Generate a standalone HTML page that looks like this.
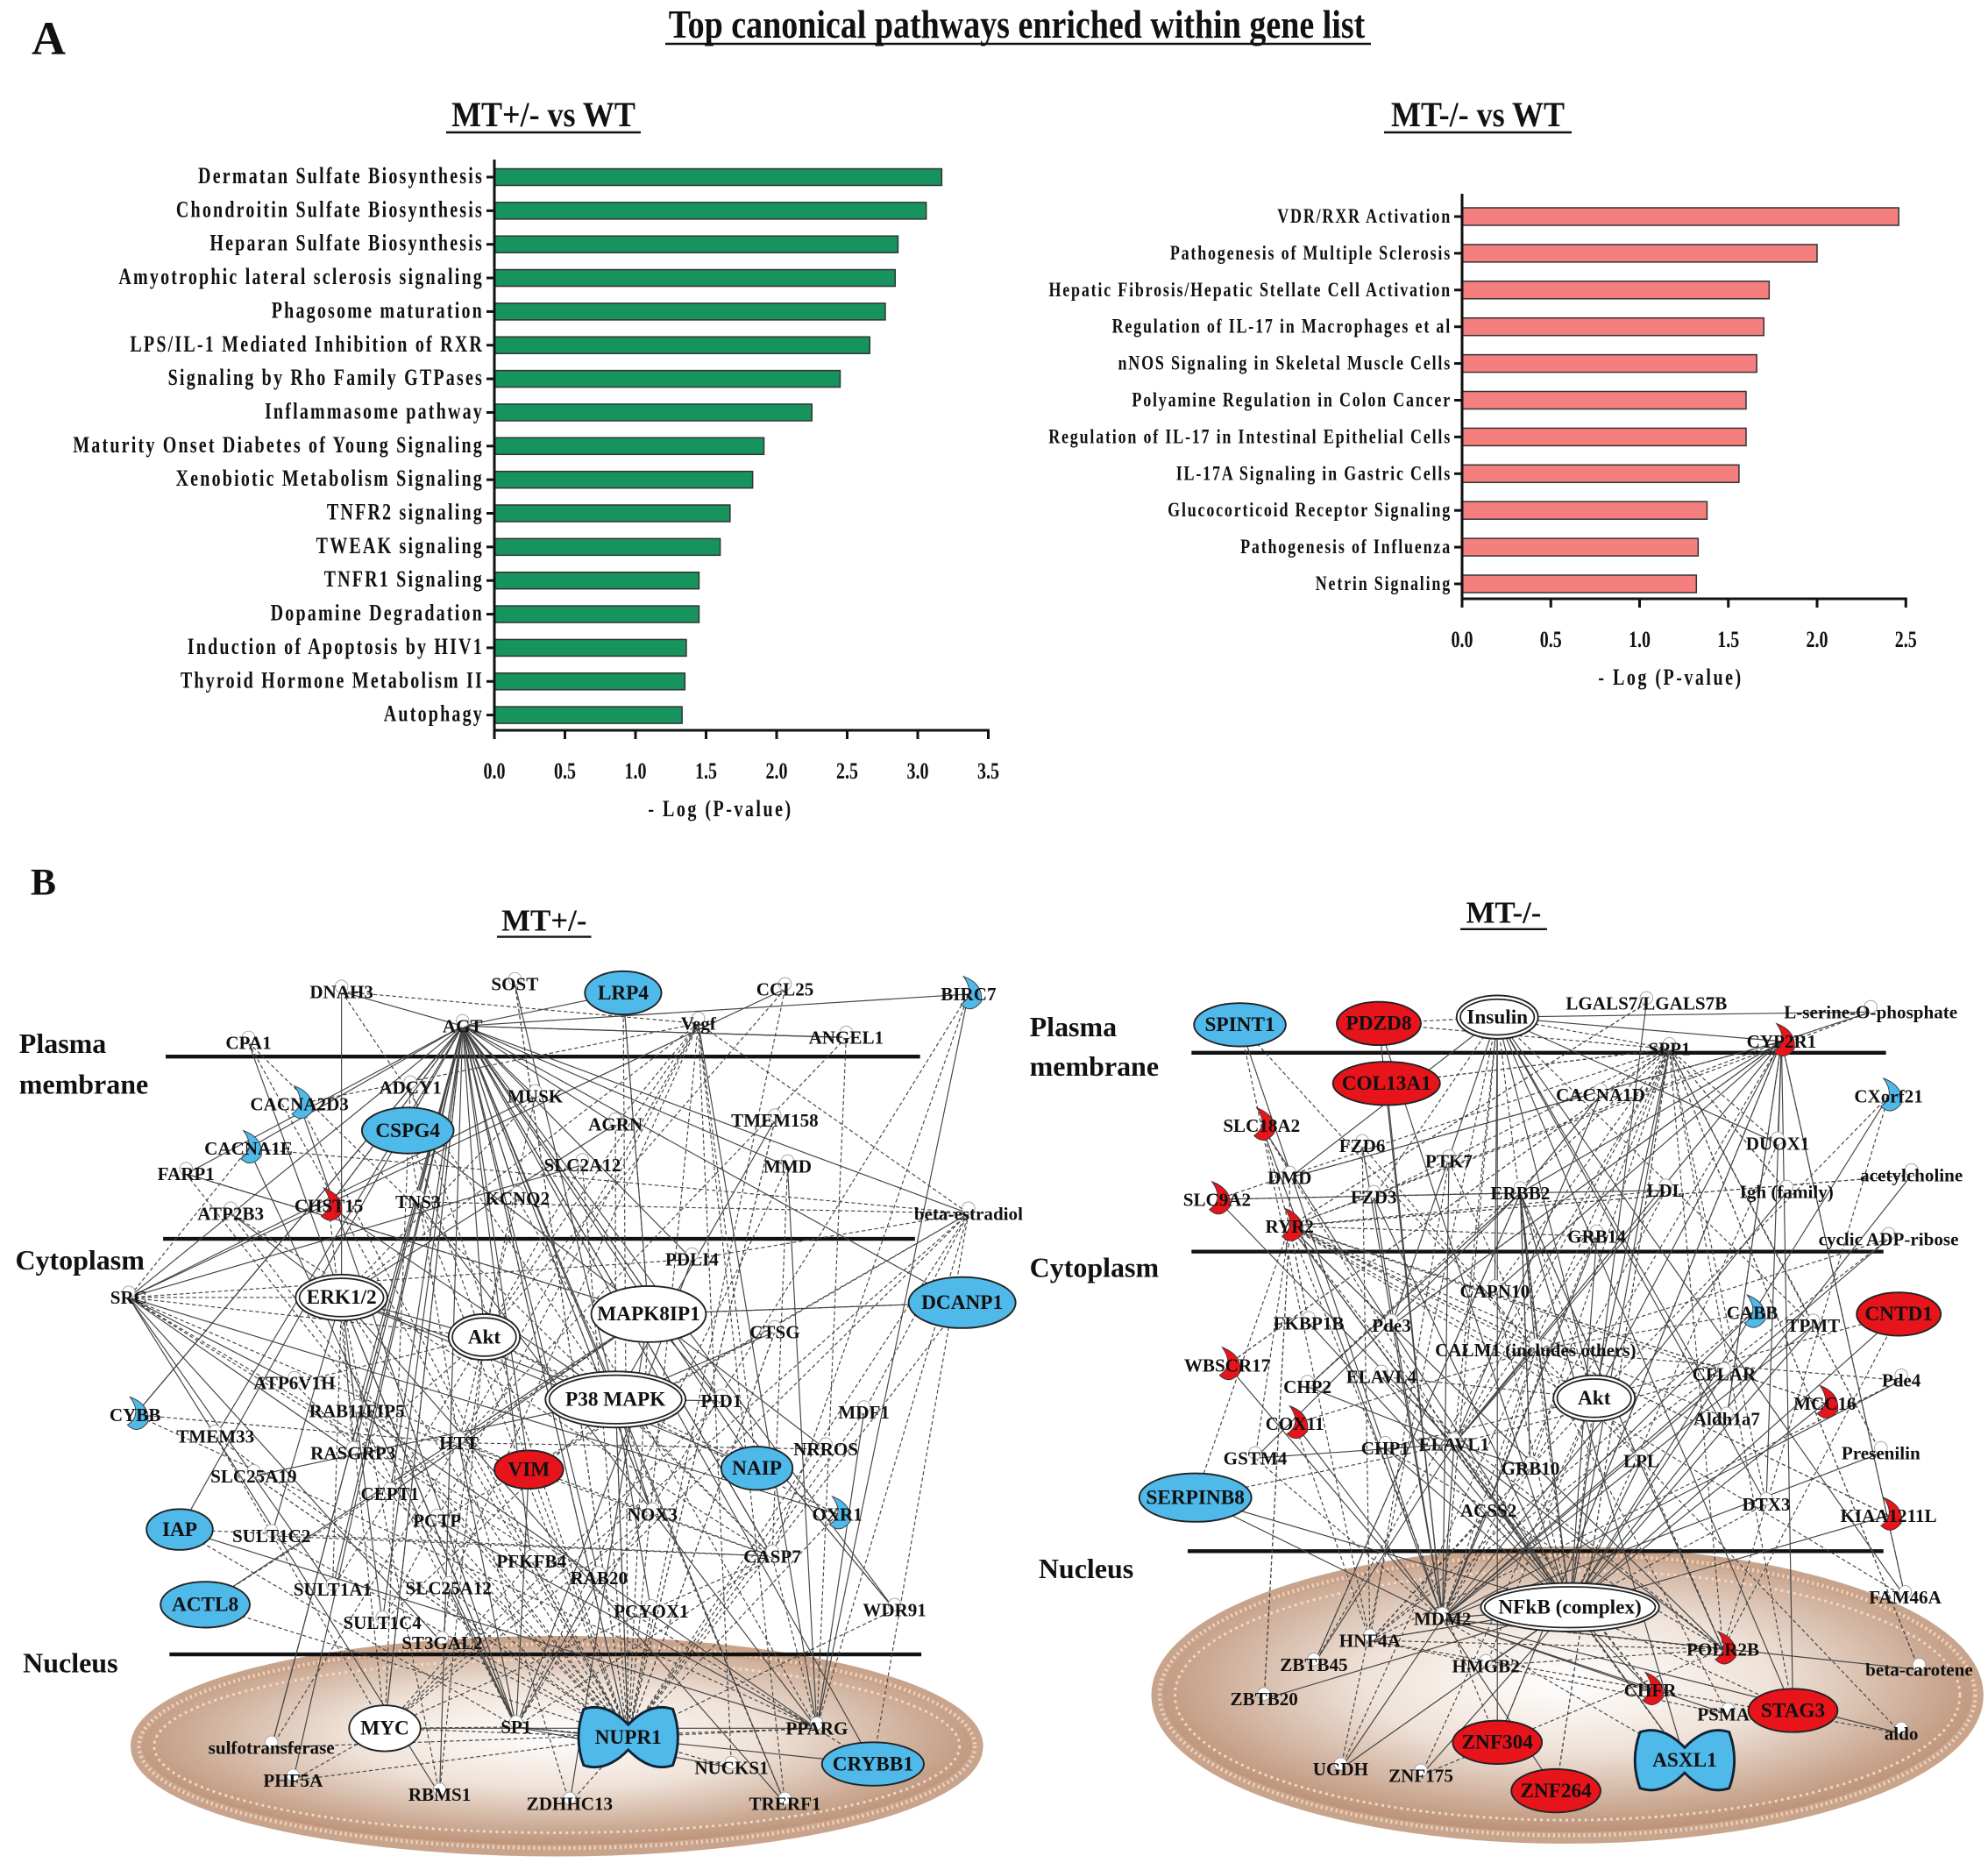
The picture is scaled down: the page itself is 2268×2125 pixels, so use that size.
<!DOCTYPE html>
<html><head><meta charset="utf-8"><style>
html,body{margin:0;padding:0;background:#fff;}
svg{display:block;}
text{font-family:"Liberation Serif",serif;font-weight:bold;fill:#111;}
</style></head><body>
<svg id="fig" width="2268" height="2125" viewBox="0 0 2268 2125" xmlns="http://www.w3.org/2000/svg">
<defs>
<radialGradient id="nuc" cx="50%" cy="45%" r="55%">
<stop offset="0" stop-color="#ffffff"/><stop offset="0.45" stop-color="#efe2d8"/><stop offset="1" stop-color="#b88c70"/>
</radialGradient>
</defs>
<text x="36" y="62" font-size="54">A</text>
<text transform="translate(1160,43) scale(1,1.2)" text-anchor="middle" font-size="38">Top canonical pathways enriched within gene list</text>
<line x1="759" y1="50" x2="1564" y2="50" stroke="#111" stroke-width="2.5"/>
<g id="chartL"></g>
<g id="chartR"></g>
<g id="net" transform="scale(1.4538)"></g>
</svg>
<script>
// ---------- Chart data ----------
const catsL = ["Dermatan Sulfate Biosynthesis","Chondroitin Sulfate Biosynthesis","Heparan Sulfate Biosynthesis","Amyotrophic lateral sclerosis signaling","Phagosome maturation","LPS/IL-1 Mediated Inhibition of RXR","Signaling by Rho Family GTPases","Inflammasome pathway","Maturity Onset Diabetes of Young Signaling","Xenobiotic Metabolism Signaling","TNFR2 signaling","TWEAK signaling","TNFR1 Signaling","Dopamine Degradation","Induction of Apoptosis by HIV1","Thyroid Hormone Metabolism II","Autophagy"];
const valsL = [3.17,3.06,2.86,2.84,2.77,2.66,2.45,2.25,1.91,1.83,1.67,1.60,1.45,1.45,1.36,1.35,1.33];
const ticksL = ["0.0","0.5","1.0","1.5","2.0","2.5","3.0","3.5"];
const catsR = ["VDR/RXR Activation","Pathogenesis of Multiple Sclerosis","Hepatic Fibrosis/Hepatic Stellate Cell Activation","Regulation of IL-17 in Macrophages et al","nNOS Signaling in Skeletal Muscle Cells","Polyamine Regulation in Colon Cancer","Regulation of IL-17 in Intestinal Epithelial Cells","IL-17A Signaling in Gastric Cells","Glucocorticoid Receptor Signaling","Pathogenesis of Influenza","Netrin Signaling"];
const valsR = [2.46,2.00,1.73,1.70,1.66,1.60,1.60,1.56,1.38,1.33,1.32];
const ticksR = ["0.0","0.5","1.0","1.5","2.0","2.5"];

const NS="http://www.w3.org/2000/svg";
function mk(tag,attrs,parent){const e=document.createElementNS(NS,tag);for(const k in attrs)e.setAttribute(k,attrs[k]);parent.appendChild(e);return e;}

function drawChart(g,cfg){
  const x=v=>cfg.x0+v*cfg.unit;
  const y=i=>cfg.y0+i*cfg.step;
  const t=mk('text',{transform:`translate(${cfg.subX},${cfg.subY}) scale(1,1.12)`,'text-anchor':'middle','font-size':36},g);
  t.textContent=cfg.sub;
  
  
  const tw=cfg.subW;
  const u=mk('line',{x1:cfg.subX-tw/2,x2:cfg.subX+tw/2,y1:cfg.subY+7,y2:cfg.subY+7,stroke:'#111','stroke-width':2.5},g);
  
  
  cfg.vals.forEach((v,i)=>{
    const r=mk('rect',{x:x(0),y:y(i)-cfg.bh/2,width:x(v)-x(0),height:cfg.bh,fill:cfg.color,stroke:'#333','stroke-width':1.5},g);
    
    
    mk('line',{x1:x(0)-9,x2:x(0),y1:y(i),y2:y(i),stroke:'#111','stroke-width':3},g);
    const l=mk('text',{transform:`translate(${x(0)-12},${y(i)+7}) scale(1,1.3)`,'text-anchor':'end','font-size':cfg.fs,'letter-spacing':cfg.ls},g);
    l.textContent=cfg.cats[i];
    
    
  });
  const ax=mk('line',{x1:x(0),x2:x(0),y1:cfg.top,y2:cfg.bottom,stroke:'#111','stroke-width':3},g);
  
  
  const last=parseFloat(cfg.ticks[cfg.ticks.length-1]);
  const bx=mk('line',{x1:x(0)-1.5,x2:x(last)+1.5,y1:cfg.bottom,y2:cfg.bottom,stroke:'#111','stroke-width':3},g);
  
  
  cfg.ticks.forEach(tk=>{
    const v=parseFloat(tk);
    mk('line',{x1:x(v),x2:x(v),y1:cfg.bottom,y2:cfg.bottom+10,stroke:'#111','stroke-width':3},g);
    const tl=mk('text',{transform:`translate(${x(v)},${cfg.bottom+55}) scale(1,1.3)`,'text-anchor':'middle','font-size':20},g);
    tl.textContent=tk;
    
    
  });
  const at=mk('text',{transform:`translate(${cfg.atX},${cfg.bottom+98}) scale(1,1.3)`,'text-anchor':'middle','font-size':20,'letter-spacing':2.5},g);
  at.textContent='- Log (P-value)';
  
  
}
drawChart(document.getElementById('chartL'),{cats:catsL,vals:valsL,ticks:ticksL,x0:564,unit:161,y0:202,step:38.35,bh:19,top:182,bottom:833,color:'#17935e',fs:20,ls:2.2,sub:'MT+/- vs WT',subX:620,subY:144,subW:222,atX:822});
drawChart(document.getElementById('chartR'),{cats:catsR,vals:valsR,ticks:ticksR,x0:1668,unit:202.5,y0:247,step:41.9,bh:20,top:221,bottom:683,color:'#f57f7f',fs:18,ls:1.8,sub:'MT-/- vs WT',subX:1686,subY:144,subW:214,atX:1906});

// ---------- Networks (diagram, main-image coordinates) ----------
const net=document.getElementById('net');
function T(s,x,y,fs,anchor,name){const t=mk('text',{x:x,y:y,'font-size':fs||13,'text-anchor':anchor||'middle'},net);t.textContent=s;return t;}
[[437,1370,330,82,'nucleus-left'],[1230,1330,322,112,'nucleus-right']].forEach(n=>{
  const e=mk('ellipse',{cx:n[0],cy:n[1],rx:n[2],ry:n[3],fill:'url(#nuc)',stroke:'#c9a48c','stroke-width':9},net);
  
  mk('ellipse',{cx:n[0],cy:n[1],rx:n[2]-2,ry:n[3]-2,fill:'none',stroke:'#f0d2bc','stroke-width':3,'stroke-dasharray':'1.5 2.5'},net);
  mk('ellipse',{cx:n[0],cy:n[1],rx:n[2]-14,ry:n[3]-14,fill:'none',stroke:'#f3d9c4','stroke-width':2,'stroke-dasharray':'2 3'},net);
});
T('B',24,702,30,'start','panel-b-label');
T('MT+/-',427,730,24,'middle','network-title-left');
mk('line',{x1:390,x2:464,y1:735,y2:735,stroke:'#111','stroke-width':1.6},net);
T('MT-/-',1180,724,24,'middle','network-title-right');
mk('line',{x1:1146,x2:1214,y1:729,y2:729,stroke:'#111','stroke-width':1.6},net);
[[130,722,829],[128,718,972],[133,723,1298],[935,1480,826],[935,1478,982],[932,1478,1217]].forEach(l=>{
  const e=mk('line',{x1:l[0],x2:l[1],y1:l[2],y2:l[2],stroke:'#111','stroke-width':3},net);
  
});
T('Plasma',15,826,22,'start','plasma-membrane-label');T('membrane',15,858,22,'start','plasma-membrane-label');
T('Cytoplasm',12,996,22,'start','cytoplasm-label');T('Nucleus',18,1312,22,'start','nucleus-label');
T('Plasma',808,813,22,'start','plasma-membrane-label');T('membrane',808,844,22,'start','plasma-membrane-label');
T('Cytoplasm',808,1002,22,'start','cytoplasm-label');T('Nucleus',815,1238,22,'start','nucleus-label');

const nodesL=[["DNAH3",268,778,"p"],["SOST",404,772,"p"],["LRP4",489,779,"b",30,17],["CCL25",616,776,"p"],["BIRC7",760,780,"c"],["CPA1",195,818,"p"],["AGT",363,805,"p"],["Vegf",548,803,"p"],["ANGEL1",664,814,"p"],["ADCY1",322,853,"p"],["MUSK",420,860,"p"],["CACNA2D3",235,866,"c"],["CACNA1E",195,901,"c"],["CSPG4",320,887,"b",36,18],["AGRN",483,882,"p"],["TMEM158",608,879,"p"],["FARP1",146,921,"p"],["SLC2A12",457,914,"p"],["MMD",618,915,"p"],["ATP2B3",181,952,"p"],["CHST15",258,946,"q"],["TNS3",328,943,"p"],["KCNQ2",406,940,"p"],["beta-estradiol",760,952,"p"],["SRC",101,1018,"p"],["ERK1/2",268,1018,"d",36,18],["PDLI4",543,988,"p"],["MAPK8IP1",509,1031,"w",45,22],["Akt",380,1049,"d",28,18],["CTSG",608,1045,"p"],["DCANP1",755,1022,"b",42,20],["ATP6V1H",231,1085,"p"],["RAB11FIP5",280,1107,"p"],["P38 MAPK",483,1098,"d",55,22],["PID1",566,1099,"p"],["MDF1",678,1108,"p"],["CYBB",106,1110,"c"],["TMEM33",169,1127,"p"],["RASGRP3",277,1140,"p"],["HTT",360,1132,"p"],["VIM",415,1153,"r",27,15],["NRROS",648,1137,"p"],["NAIP",594,1152,"b",28,17],["SLC25A19",199,1158,"p"],["CEPT1",306,1172,"p"],["OXR1",657,1188,"c"],["IAP",141,1200,"b",26,16],["SULT1C2",213,1205,"p"],["NOX3",512,1188,"p"],["PCTP",343,1193,"p"],["CASP7",606,1221,"p"],["PFKFB4",417,1225,"p"],["SULT1A1",261,1247,"p"],["SLC25A12",352,1246,"p"],["RAB20",470,1238,"p"],["ACTL8",161,1259,"b",35,18],["SULT1C4",300,1273,"p"],["PCYOX1",511,1264,"p"],["WDR91",702,1263,"p"],["ST3GAL2",347,1289,"p"],["MYC",302,1356,"w",28,18],["SP1",405,1355,"p"],["NUPR1",493,1363,"x"],["PPARG",641,1356,"p"],["sulfotransferase",213,1371,"p"],["PHF5A",230,1397,"p"],["RBMS1",345,1408,"p"],["NUCKS1",574,1387,"p"],["CRYBB1",685,1384,"b",40,17],["ZDHHC13",447,1415,"p"],["TRERF1",616,1415,"p"]];
const nodesR=[["Insulin",1175,798,"d",32,17],["LGALS7/LGALS7B",1292,787,"p"],["L-serine-O-phosphate",1468,794,"p"],["SPINT1",973,804,"b",36,17],["PDZD8",1082,803,"r",33,17],["SPP1",1310,823,"p"],["CYP2R1",1398,817,"q"],["COL13A1",1088,850,"r",42,17],["CACNA1D",1256,859,"p"],["CXorf21",1482,860,"c"],["SLC18A2",990,883,"q"],["FZD6",1069,899,"p"],["DUOX1",1395,897,"p"],["acetylcholine",1500,922,"p"],["DMD",1012,924,"p"],["PTK7",1137,911,"p"],["FZD3",1078,939,"p"],["ERBB2",1193,936,"p"],["LDL",1307,934,"p"],["Igh (family)",1402,935,"p"],["SLC9A2",955,941,"q"],["RYR2",1012,962,"q"],["GRB14",1253,970,"p"],["cyclic ADP-ribose",1482,972,"p"],["CAPN10",1173,1013,"p"],["FKBP1B",1027,1038,"p"],["Pde3",1092,1040,"p"],["CABB",1375,1030,"c"],["TPMT",1423,1040,"p"],["CNTD1",1490,1031,"r",33,17],["CALM1 (includes others)",1205,1059,"p"],["WBSCR17",963,1071,"q"],["CHP2",1026,1088,"p"],["ELAVL4",1084,1080,"p"],["CFLAR",1353,1078,"p"],["Pde4",1492,1083,"p"],["Akt",1251,1097,"d",32,18],["MCC16",1432,1101,"q"],["Aldh1a7",1355,1113,"p"],["COX11",1016,1117,"q"],["ELAVL1",1141,1133,"p"],["CHP1",1087,1136,"p"],["GSTM4",985,1144,"p"],["Presenilin",1476,1140,"p"],["GRB10",1201,1152,"p"],["LPL",1288,1146,"p"],["SERPINB8",938,1175,"b",44,19],["ACSS2",1168,1185,"p"],["DTX3",1386,1180,"p"],["KIAA1211L",1482,1189,"q"],["FAM46A",1495,1253,"p"],["NFkB (complex)",1232,1261,"d",70,19],["MDM2",1132,1270,"p"],["HNF4A",1075,1287,"p"],["POLR2B",1352,1294,"q"],["beta-carotene",1506,1310,"p"],["ZBTB45",1031,1306,"p"],["HMGB2",1166,1307,"p"],["CHFR",1295,1326,"q"],["PSMA8",1356,1345,"p"],["STAG3",1407,1342,"r",35,17],["ZBTB20",992,1333,"p"],["ZNF304",1175,1367,"r",35,17],["aldo",1492,1360,"p"],["UGDH",1052,1388,"p"],["ZNF175",1115,1393,"p"],["ASXL1",1322,1381,"x"],["ZNF264",1221,1405,"r",35,17]];

function edges(nodes,hubs){
  const g=mk('g',{stroke:'#444','stroke-width':0.8,fill:'none'},net);
  
  const H=hubs.map(h=>nodes.find(n=>n[0]===h));
  nodes.forEach((n,i)=>{
    const picks=[H[(i*7)%H.length],H[(i*3+1)%H.length],H[(i*5+2)%H.length]];
    if(i%2===0)picks.push(H[(i*11+4)%H.length]);
    picks.forEach((h,k)=>{ if(h===n)return;
      mk('line',{x1:n[1],y1:n[2],x2:h[1],y2:h[2],'stroke-dasharray':(i+k)%2?'3 2':'none'},g);});
  });
}
edges(nodesL,["AGT","Vegf","ERK1/2","Akt","P38 MAPK","MYC","SP1","NUPR1","PPARG","beta-estradiol","SRC","HTT","MAPK8IP1","CASP7"]);
edges(nodesR,["Insulin","SPP1","CYP2R1","Akt","NFkB (complex)","HNF4A","ELAVL1","RYR2","ERBB2","CALM1 (includes others)","MDM2","POLR2B"]);

function bowtie(x,y,w,h,fill){
  const d=`M${x-w} ${y-h} Q${x-w/2} ${y-h-6} ${x} ${y-h*0.45} Q${x+w/2} ${y-h-6} ${x+w} ${y-h} Q${x+w+8} ${y} ${x+w} ${y+h} Q${x+w/2} ${y+h+6} ${x} ${y+h*0.45} Q${x-w/2} ${y+h+6} ${x-w} ${y+h} Q${x-w-8} ${y} ${x-w} ${y-h}Z`;
  return mk('path',{d:d,fill:fill,stroke:'#123','stroke-width':2},net);
}
function drawNodes(nodes){
  nodes.forEach(n=>{
    const [s,x,y,t,rx,ry]=n;let sh=null;
    if(t==='b'||t==='r'||t==='w'||t==='d'){
      const fill=t==='b'?'#4fb9ea':t==='r'?'#e8141b':'#fff';
      sh=mk('ellipse',{cx:x,cy:y,rx:rx,ry:ry,fill:fill,stroke:'#222','stroke-width':1.3},net);
      if(t==='d')mk('ellipse',{cx:x,cy:y,rx:rx-3,ry:ry-3,fill:'none',stroke:'#222','stroke-width':1.2},net);
    } else if(t==='c'||t==='q'){
      const fill=t==='c'?'#4fb9ea':'#e8141b';
      sh=mk('path',{d:`M${x-4} ${y-14} Q${x+6} ${y} ${x-6} ${y+8} Q${x+2} ${y+16} ${x+10} ${y+6} Q${x+12} ${y-8} ${x-4} ${y-14}Z`,fill:fill,stroke:'#333','stroke-width':0.6},net);
    } else if(t==='x'){
      sh=bowtie(x,y,35,22,'#4fb9ea');
    } else {
      sh=mk('circle',{cx:x,cy:y-4,r:5,fill:'#fff',stroke:'#999','stroke-width':0.6},net);
    }
    
    
    const big=(t==='b'||t==='r'||t==='x'||t==='d'||t==='w');
    T(s,x,y+5,big?16:14.5,'middle','node-label');
  });
}
drawNodes(nodesL);drawNodes(nodesR);
</script>
</body></html>
